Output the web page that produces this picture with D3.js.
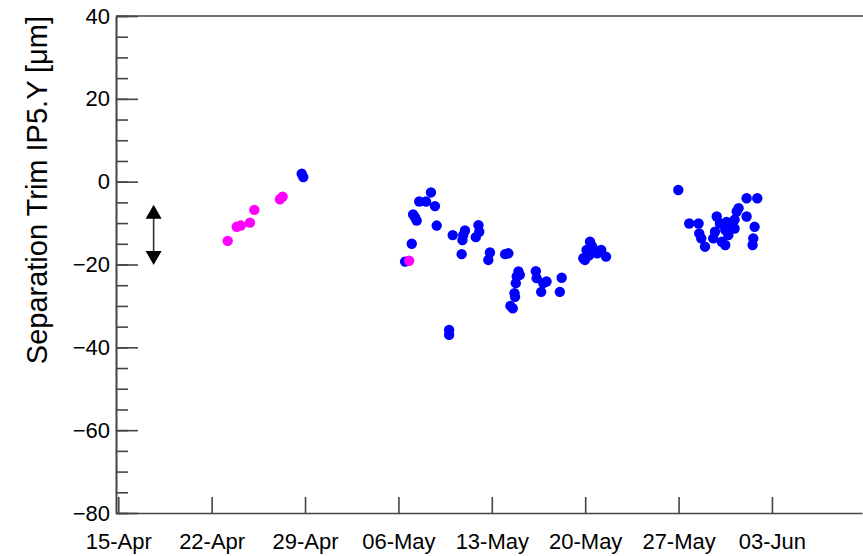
<!DOCTYPE html>
<html>
<head>
<meta charset="utf-8">
<script src="https://cdn.jsdelivr.net/npm/d3@7"></script>
<style>
  body { margin: 0; background: #fff; }
  svg { display: block; font-family: "Liberation Sans", Arial, Helvetica, sans-serif; }
</style>
</head>
<body>
<div id="chart"></div>
<script>
// days since 15-Apr 00:00 and separation trim values [um]
const magentaDays = [8.2, 8.88, 9.18, 9.87, 10.2, 12.12, 12.32, 21.8];
const magentaVals = [-14.3, -10.9, -10.6, -9.9, -6.8, -4.25, -3.6, -19.1];

const blueDays = [
  13.75, 13.87, 21.5, 22.0, 22.1, 22.24, 22.37, 22.56, 23.07, 23.44,
  23.74, 23.87, 24.8, 24.8, 25.07, 25.74, 25.8, 25.86, 25.99, 26.8,
  27.0, 27.06, 27.74, 27.86, 29.0, 29.24, 29.4, 29.57, 29.7, 29.74,
  29.8, 29.87, 30.0, 30.1, 31.3, 31.36, 31.7, 31.86, 32.1, 33.1,
  33.24, 34.86, 34.98, 35.1, 35.36, 35.5, 35.7, 35.9, 36.2, 36.56,
  35.3, 41.98, 42.8, 43.5, 43.55, 43.7, 43.98, 44.6, 44.73, 44.86,
  45.1, 45.24, 45.5, 45.5, 45.6, 45.73, 45.98, 46.2, 46.2, 46.36,
  46.5, 47.1, 47.1, 47.55, 47.6, 47.7, 47.9
];
const blueVals = [
  1.9, 1.1, -19.3, -15.0, -7.9, -8.6, -9.4, -4.8, -4.8, -2.6,
  -5.9, -10.6, -35.8, -37.0, -12.9, -17.5, -14.1, -12.9, -11.8, -13.4,
  -10.5, -12.1, -18.9, -17.1, -17.5, -17.3, -30.0, -30.6, -26.9, -27.8,
  -24.5, -22.9, -21.7, -22.5, -21.6, -23.3, -26.6, -24.5, -24.1, -26.6,
  -23.2, -18.5, -18.9, -16.5, -14.5, -15.5, -16.5, -17.3, -16.5, -18.1,
  -17.8, -2.0, -10.1, -10.1, -12.5, -13.7, -15.7, -13.7, -12.1, -8.4,
  -10.1, -14.5, -11.7, -15.3, -9.7, -12.9, -10.5, -9.2, -11.3, -7.2,
  -6.4, -8.4, -4.0, -15.3, -13.7, -10.9, -4.0
];

// double arrow marker
const arrowDay = 2.65;
const arrowFrom = -5.6;
const arrowTo = -20.1;

const xTickDays = [0, 7, 14, 21, 28, 35, 42, 49];
const yMajorTicks = [-80, -60, -40, -20, 0, 20, 40];

const start = Date.UTC(2018, 3, 15);
const DAY = 86400000;
const toDate = d => new Date(start + d * DAY);

const width = 863;
const height = 556;
const plotLeft = 116, plotRight = 862, plotTop = 16, plotBottom = 513;
const axisColor = '#444';

const svg = d3.select('#chart')
  .append('svg')
  .attr('width', width)
  .attr('height', height);

svg.append('rect').attr('width', width).attr('height', height).attr('fill', '#fff');

const x = d3.scaleUtc()
  .domain([toDate(-0.17), toDate(55.75)])
  .range([plotLeft, plotRight]);

const y = d3.scaleLinear()
  .domain([-80, 40])
  .range([plotBottom, plotTop]);

// top frame
svg.append('line')
  .attr('x1', plotLeft).attr('x2', width)
  .attr('y1', plotTop).attr('y2', plotTop)
  .attr('stroke', axisColor)
  .attr('stroke-width', 1.6);

// y axis, minor ticks every 5
svg.append('g')
  .attr('transform', `translate(${plotLeft},0)`)
  .call(d3.axisLeft(y).tickValues(d3.range(-80, 41, 5)).tickSize(-12).tickSizeOuter(0).tickFormat(''))
  .call(g => g.selectAll('line, path').attr('stroke', axisColor).attr('stroke-width', 1.6));

const yAxis = svg.append('g')
  .attr('transform', `translate(${plotLeft},0)`)
  .call(d3.axisLeft(y).tickValues(yMajorTicks).tickSize(-22).tickSizeOuter(0).tickPadding(6)
    .tickFormat(d => d < 0 ? '\u2212' + Math.abs(d) : d));
yAxis.selectAll('line, path').attr('stroke', axisColor).attr('stroke-width', 1.6);
yAxis.selectAll('text').attr('font-size', 22).attr('fill', '#000')
  .attr('font-family', '"Liberation Sans", Arial, sans-serif');

// x axis
const xAxis = svg.append('g')
  .attr('transform', `translate(0,${plotBottom})`)
  .call(d3.axisBottom(x).tickValues(xTickDays.map(toDate)).tickSize(-16).tickSizeOuter(0)
    .tickPadding(20).tickFormat(d3.utcFormat('%d-%b')));
xAxis.selectAll('line, path').attr('stroke', axisColor).attr('stroke-width', 1.6);
xAxis.selectAll('text').attr('font-size', 22).attr('fill', '#000')
  .attr('font-family', '"Liberation Sans", Arial, sans-serif');

// y title
svg.append('text')
  .attr('transform', `translate(47,${plotTop}) rotate(-90)`)
  .attr('text-anchor', 'end')
  .attr('font-size', 29)
  .attr('fill', '#000')
  .text('Separation Trim IP5.Y [\u03bcm]');

// arrow
const ax = x(toDate(arrowDay));
const ay1 = y(arrowFrom);
const ay2 = y(arrowTo);
svg.append('line')
  .attr('x1', ax).attr('x2', ax)
  .attr('y1', ay1 + 10).attr('y2', ay2 - 10)
  .attr('stroke', '#333')
  .attr('stroke-width', 1.6);
svg.append('path')
  .attr('d', `M${ax},${ay1}L${ax - 8},${ay1 + 14}L${ax + 8},${ay1 + 14}Z`)
  .attr('fill', '#000');
svg.append('path')
  .attr('d', `M${ax},${ay2}L${ax - 8},${ay2 - 14}L${ax + 8},${ay2 - 14}Z`)
  .attr('fill', '#000');

// points
const blue = blueDays.map((d, i) => ({ t: toDate(d), v: blueVals[i] }));
const magenta = magentaDays.map((d, i) => ({ t: toDate(d), v: magentaVals[i] }));

svg.append('g').selectAll('circle')
  .data(blue)
  .enter().append('circle')
  .attr('cx', d => x(d.t))
  .attr('cy', d => y(d.v))
  .attr('r', 5.2)
  .attr('fill', '#0000ff');

svg.append('g').selectAll('circle')
  .data(magenta)
  .enter().append('circle')
  .attr('cx', d => x(d.t))
  .attr('cy', d => y(d.v))
  .attr('r', 5.2)
  .attr('fill', '#ff00ff');
</script>
</body>
</html>
